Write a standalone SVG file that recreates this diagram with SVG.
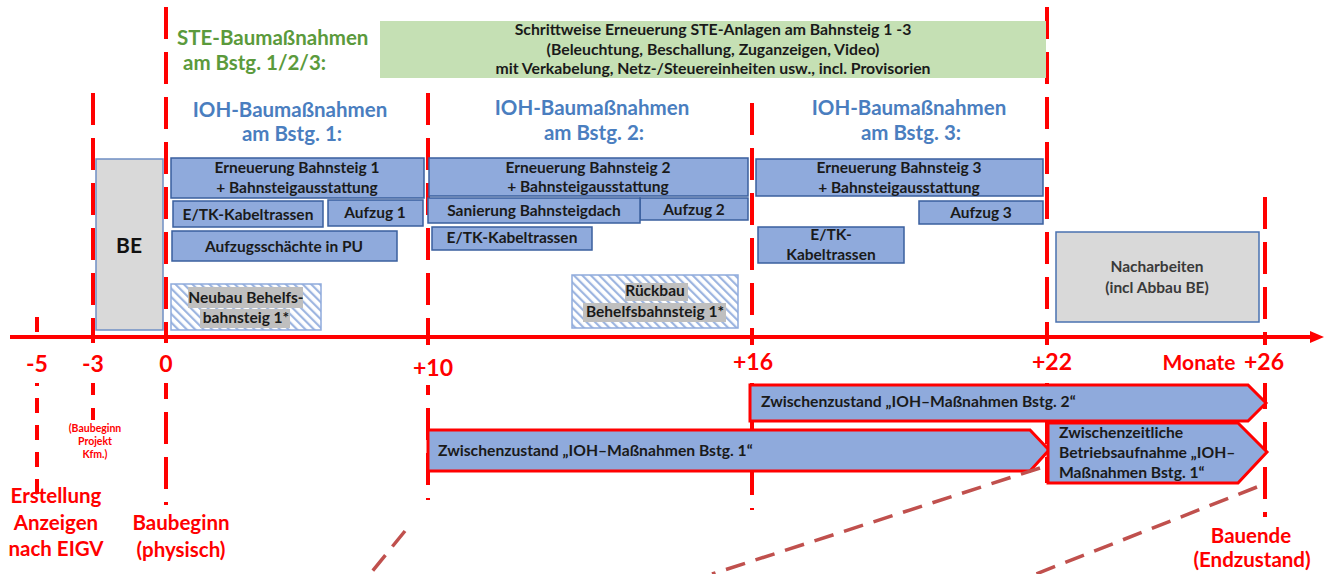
<svg xmlns="http://www.w3.org/2000/svg" width="1332" height="574" viewBox="0 0 1332 574">
<style>
text{font-family:Lato,"Liberation Sans",sans-serif;font-weight:bold}
.box{fill:#8faadc;stroke:#3a5f9e;stroke-width:1.5}
.gray{fill:#d9d9d9;stroke:#6f8fc4;stroke-width:1.5}
.hatch{fill:url(#hatch);stroke:#8faadc;stroke-width:1.5}
.hl{fill:#bfbfbf}
.t{font-size:15.5px;fill:#1a1a1a;text-anchor:middle}
.g{font-size:15.8px;fill:#1a1a1a;text-anchor:middle}
.ta{font-size:15.7px;fill:#1a1a1a}
.vd{stroke:#ff0000;stroke-width:4;stroke-dasharray:32 13;fill:none}
.tick{font-size:23px;fill:#ff0000;text-anchor:middle}
.lab{font-size:20.5px;fill:#ff0000;text-anchor:middle}
.sm{font-size:10.5px;fill:#ff0000;text-anchor:middle}
.ioh{font-size:20.5px;fill:#4a7ebf;text-anchor:middle}
.ste{font-size:20.5px;fill:#5b9a3c}
.arr{fill:#8faadc;stroke:#ff0000;stroke-width:3;stroke-linejoin:miter}
.br{stroke:#c0504d;stroke-width:3.5;stroke-dasharray:20 11;fill:none}
.wb{fill:#ffffff}
</style>
<defs>
<pattern id="hatch" width="6" height="6" patternUnits="userSpaceOnUse" patternTransform="rotate(-45)">
<rect width="6" height="6" fill="#ffffff"/>
<rect width="2.2" height="6" fill="#9db5e0"/>
</pattern>
</defs>

<g id="timeline">
<line class="vd" x1="37" y1="317" x2="37" y2="494" style="stroke-dasharray:15 12"/>
<line class="vd" x1="93" y1="93" x2="93" y2="420"/>
<line class="vd" x1="166" y1="7" x2="166" y2="505"/>
<line class="vd" x1="428" y1="93" x2="428" y2="500"/>
<line class="vd" x1="752" y1="103" x2="752" y2="510"/>
<line class="vd" x1="1047" y1="7" x2="1047" y2="483"/>
<line class="vd" x1="1265" y1="197" x2="1265" y2="517"/>
<line x1="10" y1="337" x2="1312" y2="337" stroke="#ff0000" stroke-width="4"/>
<polygon points="1310,331 1324,337 1310,343" fill="#ff0000"/>
</g>

<g id="ticks">
<rect class="wb" x="13" y="343" width="104" height="40"/>
<rect class="wb" x="120" y="343" width="50" height="40"/>
<rect class="wb" x="405" y="345" width="60" height="40"/>
<rect class="wb" x="727" y="345" width="58" height="38"/>
<rect class="wb" x="1023" y="345" width="58" height="38"/>
<rect class="wb" x="1237" y="345" width="58" height="38"/>
<text class="tick" x="37" y="372">-5</text>
<text class="tick" x="93" y="372">-3</text>
<text class="tick" x="166" y="372">0</text>
<text class="tick" x="433" y="376">+10</text>
<text class="tick" x="753" y="370">+16</text>
<text class="tick" x="1052" y="370">+22</text>
<text class="tick" x="1199" y="370" style="font-size:21px">Monate</text>
<text class="tick" x="1264" y="370">+26</text>
</g>

<g id="bottom-labels">
<text class="lab" x="56" y="503">Erstellung</text>
<text class="lab" x="56" y="530">Anzeigen</text>
<text class="lab" x="56" y="556">nach EIGV</text>
<text class="sm" x="95" y="432">(Baubeginn</text>
<text class="sm" x="95" y="445">Projekt</text>
<text class="sm" x="95" y="458">Kfm.)</text>
<text class="lab" x="181" y="530">Baubeginn</text>
<text class="lab" x="181" y="557">(physisch)</text>
<text class="lab" x="1251" y="543">Bauende</text>
<text class="lab" x="1252" y="567">(Endzustand)</text>
</g>

<g id="ste">
<rect x="380" y="21" width="666" height="57" fill="#c5e0b4"/>
<text class="g" x="713" y="35">Schrittweise Erneuerung STE-Anlagen am Bahnsteig 1 -3</text>
<text class="g" x="713" y="55">(Beleuchtung, Beschallung, Zuganzeigen, Video)</text>
<text class="g" x="713" y="74">mit Verkabelung, Netz-/Steuereinheiten usw., incl. Provisorien</text>
<text class="ste" x="177" y="45">STE-Baumaßnahmen</text>
<text class="ste" x="183" y="70">am Bstg. 1/2/3:</text>
</g>

<g id="headings">
<text class="ioh" x="290" y="117">IOH-Baumaßnahmen</text>
<text class="ioh" x="292" y="141">am Bstg. 1:</text>
<text class="ioh" x="592" y="115">IOH-Baumaßnahmen</text>
<text class="ioh" x="594" y="140">am Bstg. 2:</text>
<text class="ioh" x="909" y="115">IOH-Baumaßnahmen</text>
<text class="ioh" x="911" y="140">am Bstg. 3:</text>
</g>

<g id="be">
<rect class="gray" x="96" y="159" width="67" height="171"/>
<text x="129" y="253" style="font-size:21px;fill:#111;text-anchor:middle">BE</text>
</g>

<g id="bstg1">
<rect class="box" x="171" y="158" width="253" height="40"/>
<text class="t" x="297" y="173">Erneuerung Bahnsteig 1</text>
<text class="t" x="297" y="193">+ Bahnsteigausstattung</text>
<rect class="box" x="173" y="201" width="150" height="26"/>
<text class="t" x="248" y="220">E/TK-Kabeltrassen</text>
<rect class="box" x="328" y="200" width="95" height="26"/>
<text class="t" x="375" y="218">Aufzug 1</text>
<rect class="box" x="172" y="231" width="225" height="30"/>
<text class="t" x="284" y="252">Aufzugsschächte in PU</text>
<rect class="hatch" x="171" y="284" width="150" height="46"/>
<rect class="hl" x="188" y="287" width="115" height="21"/>
<rect class="hl" x="200" y="309" width="90" height="19"/>
<text class="t" x="246" y="303">Neubau Behelfs-</text>
<text class="t" x="246" y="323">bahnsteig 1*</text>
</g>

<g id="bstg2">
<rect class="box" x="429" y="158" width="319" height="38"/>
<text class="t" x="588" y="173">Erneuerung Bahnsteig 2</text>
<text class="t" x="588" y="192">+ Bahnsteigausstattung</text>
<rect class="box" x="640" y="198" width="108" height="22"/>
<text class="t" x="694" y="215">Aufzug 2</text>
<rect class="box" x="428" y="198" width="212" height="25"/>
<text class="t" x="534" y="216">Sanierung Bahnsteigdach</text>
<rect class="box" x="432" y="227" width="160" height="23"/>
<text class="t" x="512" y="243">E/TK-Kabeltrassen</text>
<rect class="hatch" x="572" y="275" width="166" height="53"/>
<rect class="hl" x="625" y="283" width="63" height="18"/>
<rect class="hl" x="583" y="303" width="143" height="19"/>
<text class="t" x="655" y="296">Rückbau</text>
<text class="t" x="655" y="317">Behelfsbahnsteig 1*</text>
</g>

<g id="bstg3">
<rect class="box" x="756" y="159" width="287" height="37"/>
<text class="t" x="899" y="173">Erneuerung Bahnsteig 3</text>
<text class="t" x="899" y="193">+ Bahnsteigausstattung</text>
<rect class="box" x="919" y="201" width="124" height="23"/>
<text class="t" x="981" y="218">Aufzug 3</text>
<rect class="box" x="758" y="227" width="146" height="36"/>
<text class="t" x="831" y="240">E/TK-</text>
<text class="t" x="831" y="260">Kabeltrassen</text>
</g>

<g id="nacharbeiten">
<rect class="gray" x="1056" y="232" width="203" height="90" style="stroke:#4a72b0"/>
<text class="t" x="1157" y="272" style="fill:#3a3a3a">Nacharbeiten</text>
<text class="t" x="1157" y="293" style="fill:#3a3a3a">(incl Abbau BE)</text>
</g>

<g id="zwischen2">
<polygon class="arr" points="750,385 1248,385 1266,403 1248,421 750,421"/>
<text class="ta" x="761" y="407">Zwischenzustand „IOH–Maßnahmen Bstg. 2“</text>
</g>

<g id="zwischen1">
<polygon class="arr" points="428,430 1030,430 1049,450 1030,471 428,471"/>
<text class="ta" x="438" y="456">Zwischenzustand „IOH–Maßnahmen Bstg. 1“</text>
</g>

<g id="betrieb">
<polygon class="arr" points="1048,423 1238,423 1267,452 1238,483 1048,483"/>
<text class="ta" x="1059" y="438">Zwischenzeitliche</text>
<text class="ta" x="1059" y="458">Betriebsaufnahme „IOH–</text>
<text class="ta" x="1059" y="478">Maßnahmen Bstg. 1“</text>
</g>

<g id="connectors">
<line class="br" x1="405" y1="531" x2="370" y2="574"/>
<line class="br" x1="1040" y1="468" x2="712" y2="574"/>
<line class="br" x1="1257" y1="487" x2="1036" y2="574"/>
</g>
</svg>
